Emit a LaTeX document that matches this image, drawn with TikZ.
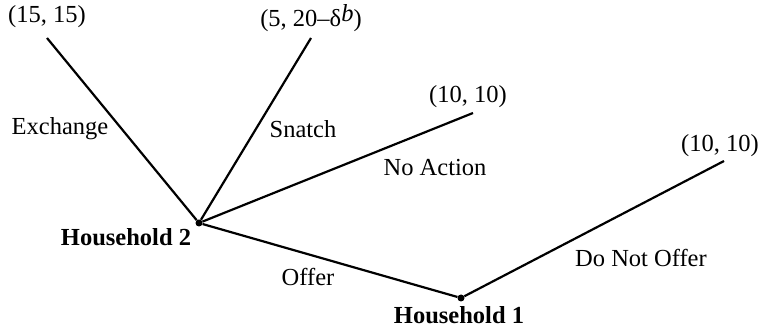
\documentclass[tikz,border=0pt]{standalone}
\usepackage{fontspec}
\setmainfont{Liberation Serif}
\begin{document}
\begin{tikzpicture}[x=1pt,y=-1pt,
  every node/.style={font=\fontsize{24.5}{28}\selectfont, inner sep=0pt},
  branch/.style={line width=2.2pt},
  dotnode/.style={circle, fill=black, minimum size=7pt, inner sep=0pt},
  hh/.style={font=\fontsize{24.5}{28}\selectfont\bfseries}]
\useasboundingbox (0,0) rectangle (766,328);
\node[dotnode] (h2) at (199,223) {};
\node[dotnode] (h1) at (461,298) {};
\coordinate (ex) at (47,38);
\coordinate (sn) at (311,38);
\coordinate (na) at (473,113);
\coordinate (dn) at (724,161);
\draw[branch] (h2) -- (ex);
\draw[branch] (h2) -- (sn);
\draw[branch] (h2) -- (na);
\draw[branch] (h2) -- (h1);
\draw[branch] (h1) -- (dn);
\node (p1) at (47,17) {(15, 15)};
\node (p2) at (311,18) {(5, 20\textendash δ\raisebox{0.45ex}{\itshape b})};
\node (p3) at (468,97) {(10, 10)};
\node (p4) at (720,146) {(10, 10)};
\node (l1) at (60,129) {Exchange};
\node (l2) at (303,129) {Snatch};
\node (l3) at (435,168) {No Action};
\node (l4) at (308,277) {Offer};
\node (l5) at (641,258) {Do Not Offer};
\node[hh] (t2) at (126,237) {Household 2};
\node[hh] (t1) at (459,315) {Household 1};
\end{tikzpicture}
\end{document}
